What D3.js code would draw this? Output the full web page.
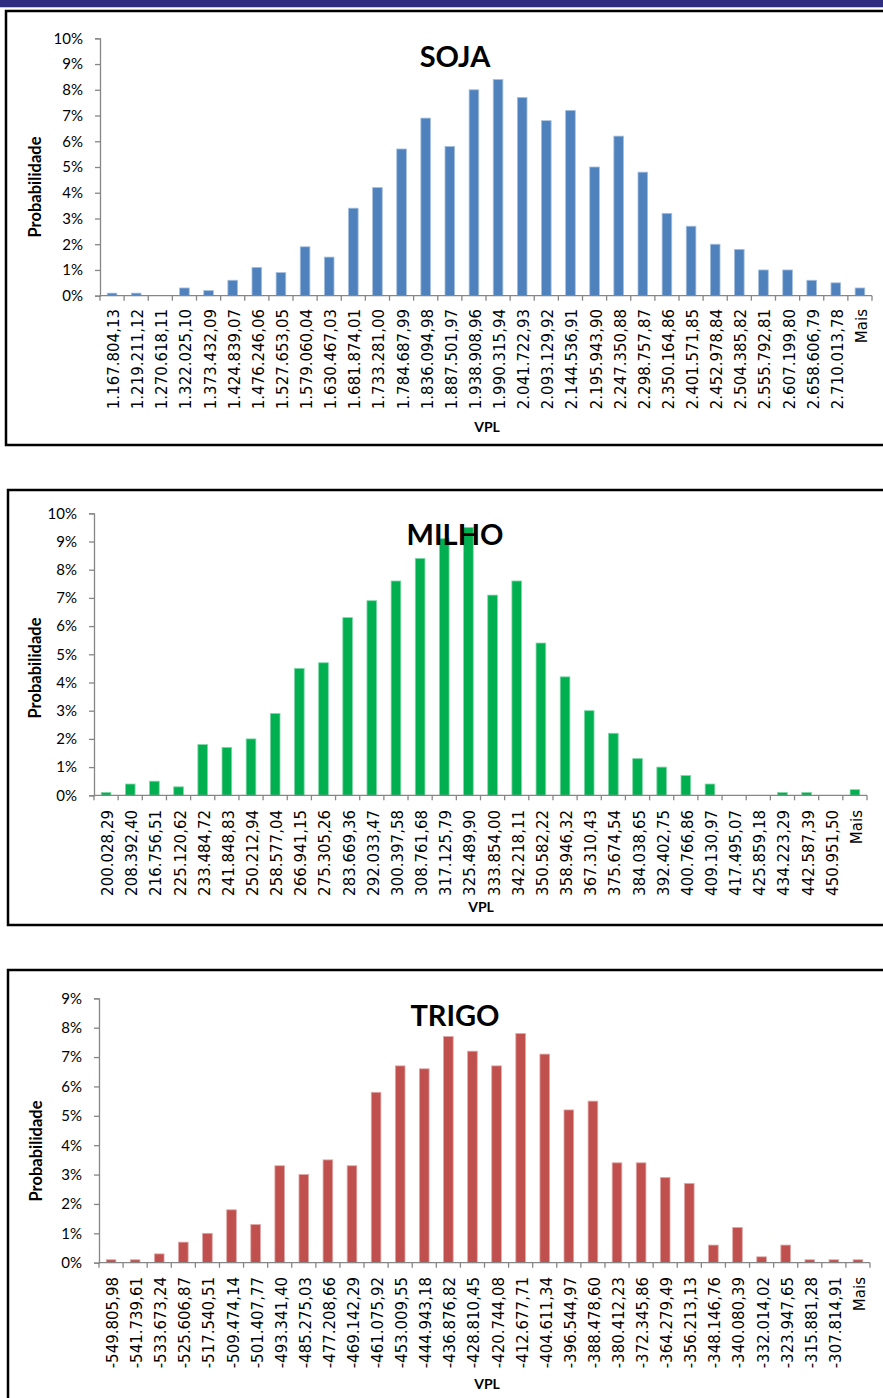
<!DOCTYPE html>
<html>
<head>
<meta charset="utf-8">
<script src="https://cdn.jsdelivr.net/npm/d3@7"></script>
<style>
  html, body { margin: 0; padding: 0; background: #fff; }
  svg { display: block; }
</style>
</head>
<body>
<svg id="chart" width="883" height="1398"></svg>
<script>
// ---------- DATA ----------
const sojaCategories = ["1.167.804,13","1.219.211,12","1.270.618,11","1.322.025,10","1.373.432,09","1.424.839,07","1.476.246,06","1.527.653,05","1.579.060,04","1.630.467,03","1.681.874,01","1.733.281,00","1.784.687,99","1.836.094,98","1.887.501,97","1.938.908,96","1.990.315,94","2.041.722,93","2.093.129,92","2.144.536,91","2.195.943,90","2.247.350,88","2.298.757,87","2.350.164,86","2.401.571,85","2.452.978,84","2.504.385,82","2.555.792,81","2.607.199,80","2.658.606,79","2.710.013,78","Mais"];
const sojaValues = [0.001,0.001,0,0.003,0.002,0.006,0.011,0.009,0.019,0.015,0.034,0.042,0.057,0.069,0.058,0.080,0.084,0.077,0.068,0.072,0.050,0.062,0.048,0.032,0.027,0.020,0.018,0.010,0.010,0.006,0.005,0.003];

const milhoCategories = ["200.028,29","208.392,40","216.756,51","225.120,62","233.484,72","241.848,83","250.212,94","258.577,04","266.941,15","275.305,26","283.669,36","292.033,47","300.397,58","308.761,68","317.125,79","325.489,90","333.854,00","342.218,11","350.582,22","358.946,32","367.310,43","375.674,54","384.038,65","392.402,75","400.766,86","409.130,97","417.495,07","425.859,18","434.223,29","442.587,39","450.951,50","Mais"];
const milhoValues = [0.001,0.004,0.005,0.003,0.018,0.017,0.020,0.029,0.045,0.047,0.063,0.069,0.076,0.084,0.091,0.095,0.071,0.076,0.054,0.042,0.030,0.022,0.013,0.010,0.007,0.004,0,0,0.001,0.001,0,0.002];

const trigoCategories = ["-549.805,98","-541.739,61","-533.673,24","-525.606,87","-517.540,51","-509.474,14","-501.407,77","-493.341,40","-485.275,03","-477.208,66","-469.142,29","-461.075,92","-453.009,55","-444.943,18","-436.876,82","-428.810,45","-420.744,08","-412.677,71","-404.611,34","-396.544,97","-388.478,60","-380.412,23","-372.345,86","-364.279,49","-356.213,13","-348.146,76","-340.080,39","-332.014,02","-323.947,65","-315.881,28","-307.814,91","Mais"];
const trigoValues = [0.001,0.001,0.003,0.007,0.010,0.018,0.013,0.033,0.030,0.035,0.033,0.058,0.067,0.066,0.077,0.072,0.067,0.078,0.071,0.052,0.055,0.034,0.034,0.029,0.027,0.006,0.012,0.002,0.006,0.001,0.001,0.001];

const sojaTicks = [0,0.01,0.02,0.03,0.04,0.05,0.06,0.07,0.08,0.09,0.10];
const milhoTicks = [0,0.01,0.02,0.03,0.04,0.05,0.06,0.07,0.08,0.09,0.10];
const trigoTicks = [0,0.01,0.02,0.03,0.04,0.05,0.06,0.07,0.08,0.09];

const titles = ["SOJA","MILHO","TRIGO"];
const yAxisTitle = "Probabilidade";
const xAxisTitle = "VPL";

// ---------- DRAW ----------
const svg = d3.select("#chart");
svg.append("rect").attr("x",0).attr("y",0).attr("width",883).attr("height",1398).attr("fill","#fff");
svg.append("rect").attr("x",0).attr("y",0).attr("width",883).attr("height",7).attr("fill","#2E2D7F");
svg.append("rect").attr("x",0).attr("y",7).attr("width",883).attr("height",1).attr("fill","#c9c9dd");

const panels = [
  {x:6, y:11, h:434},
  {x:8, y:490, h:435},
  {x:8, y:970, h:500}
];
panels.forEach(p => {
  svg.append("rect").attr("x",p.x).attr("y",p.y).attr("width",920).attr("height",p.h)
    .attr("fill","none").attr("stroke","#000").attr("stroke-width",2.5);
});

function drawChart(cfg) {
  const g = svg.append("g");
  const x = d3.scaleBand().domain(cfg.categories).range([cfg.x0, cfg.x1]).paddingInner(0).paddingOuter(0);
  const y = d3.scaleLinear().domain([0, cfg.yMax]).range([cfg.yZero, cfg.yTop]);
  const bw = x.bandwidth();

  // bars
  g.selectAll("rect.bar").data(cfg.values.map((v,i)=>({c:cfg.categories[i], v})))
    .join("rect").attr("class","bar")
    .attr("x", d => x(d.c) + bw*0.3)
    .attr("width", bw*0.4)
    .attr("y", d => y(d.v))
    .attr("height", d => y(0) - y(d.v))
    .attr("fill", cfg.color)
    .attr("stroke", cfg.edge)
    .attr("stroke-width", d => d.v > 0 ? 0.8 : 0);

  // title (drawn over bars)
  g.append("text").attr("x", cfg.titleX).attr("y", cfg.titleY)
    .attr("text-anchor","middle")
    .style("font-family","Lato, 'Open Sans', sans-serif").style("font-weight","bold")
    .style("font-size","29px").attr("fill","#000").text(cfg.title);

  // y axis
  const yAxis = d3.axisLeft(y).tickValues(cfg.ticks).tickFormat(d3.format(".0%")).tickSize(5).tickPadding(6);
  const ya = g.append("g").attr("transform", `translate(${cfg.x0},0)`).call(yAxis);
  ya.select(".domain").attr("stroke","#868686").attr("stroke-width",1.3);
  ya.selectAll(".tick line").attr("stroke","#868686").attr("stroke-width",1.3);
  ya.selectAll(".tick text").style("font-family","Lato, 'Open Sans', sans-serif")
    .style("font-size","15px").attr("fill","#000").attr("x", -(cfg.x0 - cfg.yLabelRight));

  // x axis line & tick marks between categories
  g.append("line").attr("x1", cfg.x0).attr("x2", cfg.x1).attr("y1", cfg.yZero).attr("y2", cfg.yZero)
    .attr("stroke","#868686").attr("stroke-width",1.3);
  const tickXs = cfg.categories.map(c => x(c)).concat([cfg.x1]);
  g.selectAll("line.xt").data(tickXs).join("line").attr("class","xt")
    .attr("x1", d => d).attr("x2", d => d).attr("y1", cfg.yZero).attr("y2", cfg.yZero + 5)
    .attr("stroke","#868686").attr("stroke-width",1.3);

  // x labels
  g.selectAll("text.xl").data(cfg.categories).join("text").attr("class","xl")
    .attr("transform", d => `translate(${x(d) + bw/2 + 7},${cfg.labelTop}) rotate(-90)`)
    .attr("text-anchor","end")
    .style("font-family","'DejaVu Sans', Verdana, sans-serif")
    .style("font-size","15px").attr("fill","#000").text(d => d);

  // axis titles
  g.append("text").attr("transform", `translate(${cfg.yTitleX},${cfg.yTitleY}) rotate(-90)`)
    .attr("text-anchor","middle")
    .style("font-family","Lato, 'Open Sans', sans-serif").style("font-weight","bold")
    .style("font-size","16.5px").attr("fill","#000").text(yAxisTitle);
  g.append("text").attr("x", cfg.xTitleX).attr("y", cfg.xTitleY)
    .attr("text-anchor","middle")
    .style("font-family","Lato, 'Open Sans', sans-serif").style("font-weight","bold")
    .style("font-size","14px").attr("fill","#000").text(xAxisTitle);
}

drawChart({categories: sojaCategories, values: sojaValues, ticks: sojaTicks, yMax: 0.10,
  x0: 100, x1: 872, yTop: 38.3, yZero: 295.7, color: "#4F81BD", edge: "#a7c0de",
  title: titles[0], titleX: 455, titleY: 67, yLabelRight: 83, labelTop: 309,
  yTitleX: 41, yTitleY: 187, xTitleX: 487, xTitleY: 432});

drawChart({categories: milhoCategories, values: milhoValues, ticks: milhoTicks, yMax: 0.10,
  x0: 94, x1: 867, yTop: 513.3, yZero: 795.3, color: "#00B050", edge: "#7fd7a7",
  title: titles[1], titleX: 455, titleY: 545, yLabelRight: 77, labelTop: 810,
  yTitleX: 41, yTitleY: 668, xTitleX: 481, xTitleY: 912});

drawChart({categories: trigoCategories, values: trigoValues, ticks: trigoTicks, yMax: 0.09,
  x0: 99, x1: 870, yTop: 998.3, yZero: 1262.7, color: "#C0504D", edge: "#dfa7a6",
  title: titles[2], titleX: 455, titleY: 1026, yLabelRight: 82, labelTop: 1277,
  yTitleX: 42, yTitleY: 1151, xTitleX: 487, xTitleY: 1389});
</script>
</body>
</html>
